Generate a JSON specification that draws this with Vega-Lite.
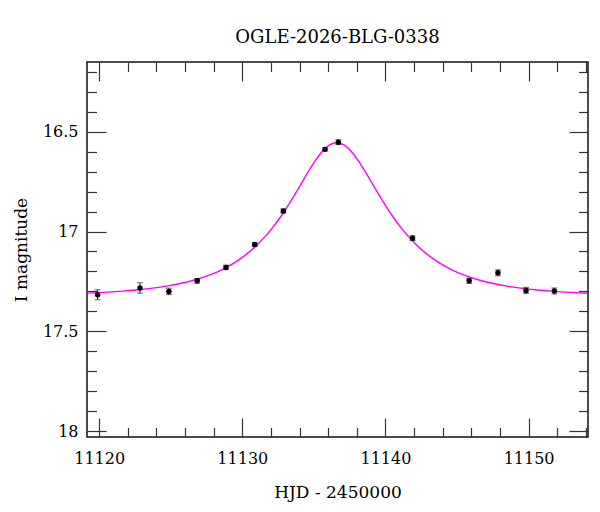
{
  "$schema": "https://vega.github.io/schema/vega-lite/v6.json",
  "width": 501,
  "height": 375,
  "autosize": "none",
  "padding": {"left": 87, "top": 62, "right": 12, "bottom": 75},
  "background": "white",
  "title": {"text": "OGLE-2026-BLG-0338", "font": "DejaVu Serif", "fontSize": 18, "fontWeight": "normal", "color": "black", "anchor": "middle", "frame": "group", "offset": 14},
  "config": {
    "view": {"stroke": "#111", "strokeWidth": 1.5},
    "axis": {"labelFont": "DejaVu Serif", "labelFontSize": 16, "labelColor": "black", "titleFont": "DejaVu Serif", "titleFontSize": 17, "titleFontWeight": "normal", "titleColor": "black", "grid": false, "domain": false, "tickColor": "#333", "tickWidth": 1.2}
  },
  "datasets": {
    "curve": [
      {"t": 11119.1, "m": 17.309}, {"t": 11120.6, "m": 17.3036}, {"t": 11121.6, "m": 17.2989}, {"t": 11122.6, "m": 17.2928},
      {"t": 11123.6, "m": 17.2849}, {"t": 11124.6, "m": 17.2748}, {"t": 11125.6, "m": 17.2615}, {"t": 11126.6, "m": 17.2441},
      {"t": 11127.6, "m": 17.221}, {"t": 11128.6, "m": 17.1903}, {"t": 11129.6, "m": 17.1495}, {"t": 11130.6, "m": 17.0953},
      {"t": 11131.1, "m": 17.0621}, {"t": 11131.6, "m": 17.0242}, {"t": 11132.1, "m": 16.9813}, {"t": 11132.6, "m": 16.9333},
      {"t": 11133.1, "m": 16.8801}, {"t": 11133.6, "m": 16.8225}, {"t": 11134.1, "m": 16.7621}, {"t": 11134.6, "m": 16.7014},
      {"t": 11135.1, "m": 16.6447}, {"t": 11135.6, "m": 16.5975}, {"t": 11136.1, "m": 16.5658}, {"t": 11136.6, "m": 16.5545},
      {"t": 11137.1, "m": 16.5658}, {"t": 11137.6, "m": 16.5975}, {"t": 11138.1, "m": 16.6447}, {"t": 11138.6, "m": 16.7014},
      {"t": 11139.1, "m": 16.7621}, {"t": 11139.6, "m": 16.8225}, {"t": 11140.1, "m": 16.8801}, {"t": 11140.6, "m": 16.9333},
      {"t": 11141.1, "m": 16.9813}, {"t": 11141.6, "m": 17.0242}, {"t": 11142.1, "m": 17.0621}, {"t": 11142.6, "m": 17.0953},
      {"t": 11143.6, "m": 17.1495}, {"t": 11144.6, "m": 17.1903}, {"t": 11145.6, "m": 17.221}, {"t": 11146.6, "m": 17.2441},
      {"t": 11147.6, "m": 17.2615}, {"t": 11148.6, "m": 17.2748}, {"t": 11149.6, "m": 17.2849}, {"t": 11150.6, "m": 17.2928},
      {"t": 11151.6, "m": 17.2989}, {"t": 11152.6, "m": 17.3036}, {"t": 11154.1, "m": 17.309}
    ],
    "obs": [
      {"t": 11119.89, "mag": 17.317, "lo": 17.292, "hi": 17.342},
      {"t": 11122.85, "mag": 17.283, "lo": 17.257, "hi": 17.309},
      {"t": 11124.87, "mag": 17.300, "lo": 17.284, "hi": 17.316},
      {"t": 11126.85, "mag": 17.247, "lo": 17.235, "hi": 17.259},
      {"t": 11128.86, "mag": 17.180, "lo": 17.169, "hi": 17.191},
      {"t": 11130.87, "mag": 17.065, "lo": 17.055, "hi": 17.075},
      {"t": 11132.87, "mag": 16.897, "lo": 16.887, "hi": 16.907},
      {"t": 11135.78, "mag": 16.588, "lo": 16.580, "hi": 16.596},
      {"t": 11136.71, "mag": 16.552, "lo": 16.540, "hi": 16.564},
      {"t": 11141.89, "mag": 17.033, "lo": 17.021, "hi": 17.045},
      {"t": 11145.85, "mag": 17.247, "lo": 17.234, "hi": 17.260},
      {"t": 11147.86, "mag": 17.207, "lo": 17.192, "hi": 17.222},
      {"t": 11149.82, "mag": 17.295, "lo": 17.280, "hi": 17.310},
      {"t": 11151.80, "mag": 17.298, "lo": 17.283, "hi": 17.313}
    ]
  },
  "resolve": {"axis": {"x": "independent", "y": "independent"}},
  "layer": [
    {
      "data": {"name": "curve"},
      "mark": {"type": "line", "color": "#ff00ff", "strokeWidth": 1.4, "interpolate": "monotone", "clip": true},
      "encoding": {
        "x": {"field": "t", "type": "quantitative", "scale": {"domain": [11119.15, 11154.15], "nice": false, "zero": false},
              "axis": {"orient": "bottom", "values": [11120, 11130, 11140, 11150], "format": "d", "ticks": false, "tickSize": 0, "labelPadding": 13, "title": "HJD - 2450000", "titlePadding": 18}},
        "y": {"field": "m", "type": "quantitative", "scale": {"domain": [16.15, 18.03], "reverse": true, "nice": false, "zero": false},
              "axis": {"orient": "left", "values": [16.5, 17, 17.5, 18], "format": "~g", "ticks": false, "tickSize": 0, "labelPadding": 9, "title": "I magnitude", "titlePadding": 12}}
      }
    },
    {
      "data": {"name": "obs"},
      "mark": {"type": "rule", "color": "#333", "strokeWidth": 1.1},
      "encoding": {
        "x": {"field": "t", "type": "quantitative", "scale": {"domain": [11119.15, 11154.15], "nice": false, "zero": false},
              "axis": {"orient": "bottom", "values": [11120, 11130, 11140, 11150], "labels": false, "tickSize": -19, "title": null}},
        "y": {"field": "lo", "type": "quantitative", "scale": {"domain": [16.15, 18.03], "reverse": true, "nice": false, "zero": false},
              "axis": {"orient": "left", "values": [16.5, 17, 17.5, 18], "labels": false, "tickSize": -19, "title": null}},
        "y2": {"field": "hi"}
      }
    },
    {
      "data": {"name": "obs"},
      "mark": {"type": "tick", "orient": "horizontal", "color": "#333", "size": 6, "thickness": 1.1},
      "encoding": {
        "x": {"field": "t", "type": "quantitative", "scale": {"domain": [11119.15, 11154.15], "nice": false, "zero": false},
              "axis": {"orient": "bottom", "values": [11122, 11124, 11126, 11128, 11132, 11134, 11136, 11138, 11142, 11144, 11146, 11148, 11152, 11154], "labels": false, "tickSize": -9.5, "title": null}},
        "y": {"field": "lo", "type": "quantitative", "scale": {"domain": [16.15, 18.03], "reverse": true, "nice": false, "zero": false},
              "axis": {"orient": "left", "values": [16.2, 16.3, 16.4, 16.6, 16.7, 16.8, 16.9, 17.1, 17.2, 17.3, 17.4, 17.6, 17.7, 17.8, 17.9], "labels": false, "tickSize": -9.5, "title": null}}
      }
    },
    {
      "data": {"name": "obs"},
      "mark": {"type": "tick", "orient": "horizontal", "color": "#333", "size": 6, "thickness": 1.1},
      "encoding": {
        "x": {"field": "t", "type": "quantitative", "scale": {"domain": [11119.15, 11154.15], "nice": false, "zero": false},
              "axis": {"orient": "top", "values": [11120, 11130, 11140, 11150], "labels": false, "tickSize": -19, "title": null}},
        "y": {"field": "hi", "type": "quantitative", "scale": {"domain": [16.15, 18.03], "reverse": true, "nice": false, "zero": false},
              "axis": {"orient": "right", "values": [16.5, 17, 17.5, 18], "labels": false, "tickSize": -19, "title": null}}
      }
    },
    {
      "data": {"name": "obs"},
      "mark": {"type": "point", "filled": true, "color": "black", "size": 30, "opacity": 1},
      "encoding": {
        "x": {"field": "t", "type": "quantitative", "scale": {"domain": [11119.15, 11154.15], "nice": false, "zero": false},
              "axis": {"orient": "top", "values": [11122, 11124, 11126, 11128, 11132, 11134, 11136, 11138, 11142, 11144, 11146, 11148, 11152, 11154], "labels": false, "tickSize": -9.5, "title": null}},
        "y": {"field": "mag", "type": "quantitative", "scale": {"domain": [16.15, 18.03], "reverse": true, "nice": false, "zero": false},
              "axis": {"orient": "right", "values": [16.2, 16.3, 16.4, 16.6, 16.7, 16.8, 16.9, 17.1, 17.2, 17.3, 17.4, 17.6, 17.7, 17.8, 17.9], "labels": false, "tickSize": -9.5, "title": null}}
      }
    }
  ]
}
